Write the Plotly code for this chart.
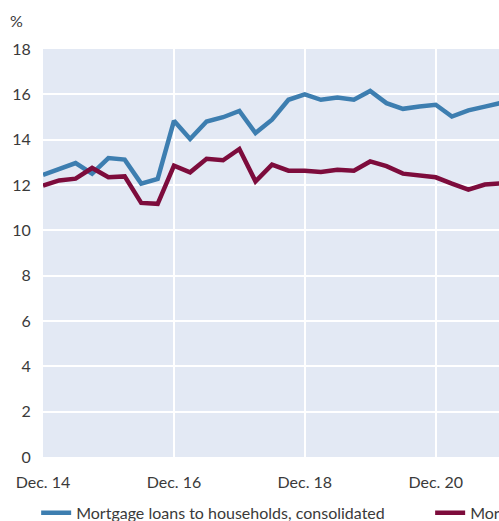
import plotly.graph_objects as go

quarters = [
    "2014-12-01", "2015-03-01", "2015-06-01", "2015-09-01",
    "2015-12-01", "2016-03-01", "2016-06-01", "2016-09-01",
    "2016-12-01", "2017-03-01", "2017-06-01", "2017-09-01",
    "2017-12-01", "2018-03-01", "2018-06-01", "2018-09-01",
    "2018-12-01", "2019-03-01", "2019-06-01", "2019-09-01",
    "2019-12-01", "2020-03-01", "2020-06-01", "2020-09-01",
    "2020-12-01", "2021-03-01", "2021-06-01", "2021-09-01",
    "2021-12-01",
]

consolidated = [
    12.45, 12.7, 12.97, 12.5, 13.19, 13.12, 12.06, 12.27,
    14.83, 14.03, 14.8, 14.99, 15.27, 14.29, 14.88, 15.76,
    16.0, 15.76, 15.86, 15.76, 16.15, 15.61, 15.36, 15.46,
    15.54, 15.02, 15.29, 15.46, 15.62,
]

parent_bank = [
    11.97, 12.2, 12.28, 12.75, 12.34, 12.38, 11.21, 11.17,
    12.85, 12.56, 13.16, 13.09, 13.59, 12.16, 12.9, 12.63,
    12.63, 12.57, 12.67, 12.63, 13.04, 12.83, 12.5, 12.43,
    12.34, 12.06, 11.8, 12.02, 12.07,
]

tick_vals = ["2014-12-01", "2016-12-01", "2018-12-01", "2020-12-01"]
tick_text = ["Dec. 14", "Dec. 16", "Dec. 18", "Dec. 20"]

TXT = "#3a3a3a"
FONT = "Lato"

fig = go.Figure()
fig.add_trace(go.Scatter(
    x=quarters, y=consolidated, mode="lines",
    name="Mortgage loans to households, consolidated",
    line=dict(color="#3d7eb0", width=4.5),
    legend="legend",
))
fig.add_trace(go.Scatter(
    x=quarters, y=parent_bank, mode="lines",
    name="Mortgage loans to households, parent bank",
    line=dict(color="#7d0c3c", width=4.5),
    legend="legend2",
))

fig.update_layout(
    width=499, height=521,
    margin=dict(l=43, r=0, t=49, b=64, autoexpand=False),
    paper_bgcolor="white",
    plot_bgcolor="#e3e9f4",
    font=dict(family=FONT, size=16, color=TXT),
    showlegend=True,
    legend=dict(
        orientation="h", x=-0.015, xanchor="left", y=-0.095, yanchor="top",
        font=dict(family=FONT, size=16, color=TXT),
        bgcolor="rgba(0,0,0,0)", itemclick=False,
    ),
    legend2=dict(
        orientation="h", x=0.849, xanchor="left", y=-0.095, yanchor="top",
        font=dict(family=FONT, size=16, color=TXT),
        bgcolor="rgba(0,0,0,0)", itemclick=False,
    ),
    xaxis=dict(
        type="date",
        range=["2014-12-01", "2021-11-19"],
        tickvals=tick_vals, ticktext=tick_text,
        showgrid=True, gridcolor="white", gridwidth=2,
        ticks="outside", ticklen=11, tickcolor="rgba(0,0,0,0)",
        showline=False, zeroline=False,
        tickfont=dict(family=FONT, size=16, color=TXT),
    ),
    yaxis=dict(
        range=[0, 18], dtick=2,
        showgrid=True, gridcolor="white", gridwidth=2,
        zeroline=False, showline=False,
        ticks="outside", ticklen=8, tickcolor="rgba(0,0,0,0)",
        tickfont=dict(family=FONT, size=16, color=TXT),
    ),
    annotations=[dict(
        text="%", xref="paper", yref="paper",
        x=-0.0765, xanchor="left", y=1.071, yanchor="middle",
        showarrow=False, font=dict(family=FONT, size=16, color=TXT),
    )],
)

fig.write_html(
    "out.html",
    config={"displayModeBar": False},
    post_script="document.body.style.margin='0';document.body.style.overflow='hidden';",
)
